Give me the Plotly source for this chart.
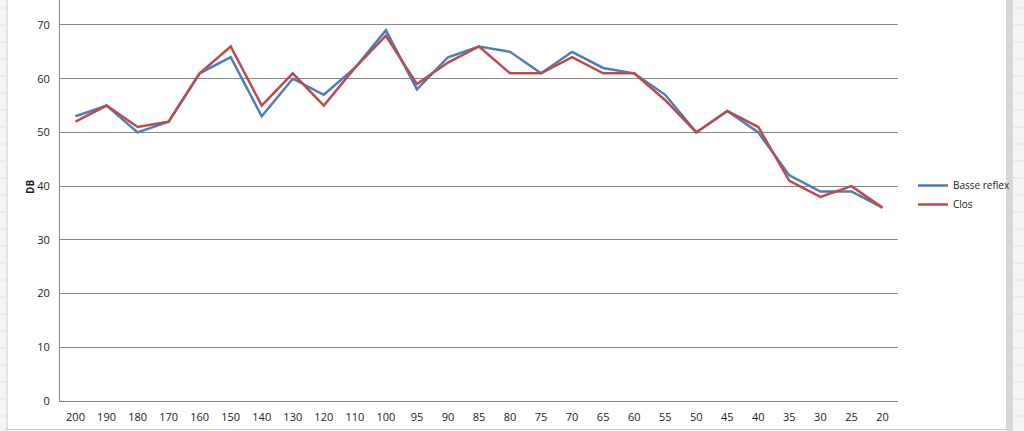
import plotly.graph_objects as go

categories = ["200", "190", "180", "170", "160", "150", "140", "130", "120", "110", "100",
              "95", "90", "85", "80", "75", "70", "65", "60", "55", "50", "45", "40",
              "35", "30", "25", "20"]
basse_reflex = [53, 55, 50, 52, 61, 64, 53, 60, 57, 62, 69, 58, 64, 66, 65, 61, 65, 62, 61,
                57, 50, 54, 50, 42, 39, 39, 36]
clos = [52, 55, 51, 52, 61, 66, 55, 61, 55, 62, 68, 59, 63, 66, 61, 61, 64, 61, 61,
        56, 50, 54, 51, 41, 38, 40, 36]
y_ticks = [0, 10, 20, 30, 40, 50, 60, 70]

W, H = 1024, 431
L, R, T, B = 60, 126, 0, 30
PW, PH = W - L - R, H - T - B


def px(x):
    return (x - L) / PW


def py(y):
    return (H - B - y) / PH


fig = go.Figure()
fig.add_trace(go.Scatter(x=categories, y=basse_reflex, mode="lines", name="Basse reflex",
                         line=dict(color="#4A7EBB", width=2.5)))
fig.add_trace(go.Scatter(x=categories, y=clos, mode="lines", name="Clos",
                         line=dict(color="#BE4B48", width=2.5)))

shapes = []
# spreadsheet background outside chart
shapes.append(dict(type="rect", xref="paper", yref="paper", x0=px(1008), x1=px(1030),
                   y0=py(-5), y1=py(435), fillcolor="#f4f4f4", line=dict(width=0), layer="below"))
shapes.append(dict(type="rect", xref="paper", yref="paper", x0=px(1006), x1=px(1013),
                   y0=py(-5), y1=py(435), fillcolor="#d8d8d8", line=dict(width=0), layer="below"))
shapes.append(dict(type="rect", xref="paper", yref="paper", x0=px(-5), x1=px(7),
                   y0=py(-5), y1=py(435), fillcolor="#f4f4f4", line=dict(width=0), layer="below"))
shapes.append(dict(type="line", xref="paper", yref="paper", x0=px(7), x1=px(7),
                   y0=py(0), y1=py(430), line=dict(color="#c8c8c8", width=1)))
shapes.append(dict(type="line", xref="paper", yref="paper", x0=px(7), x1=px(1007),
                   y0=py(429.5), y1=py(429.5), line=dict(color="#c8c8c8", width=1)))
for gy in range(8, 431, 17):
    shapes.append(dict(type="line", xref="paper", yref="paper", x0=px(0), x1=px(6),
                       y0=py(gy), y1=py(gy), line=dict(color="#e2e2e2", width=1)))
    shapes.append(dict(type="line", xref="paper", yref="paper", x0=px(1013), x1=px(1024),
                       y0=py(gy), y1=py(gy), line=dict(color="#e2e2e2", width=1)))

fig.update_layout(
    width=W, height=H,
    margin=dict(l=L, r=R, t=T, b=B, autoexpand=False),
    paper_bgcolor="white", plot_bgcolor="white",
    font=dict(family="Open Sans", size=11, color="#222222"),
    showlegend=True,
    legend=dict(x=px(913), y=py(195), xanchor="left", yanchor="middle",
                font=dict(size=10, color="#222222"), bgcolor="rgba(0,0,0,0)",
                tracegroupgap=2, itemwidth=30),
    xaxis=dict(type="category", showgrid=False, showline=True, linecolor="#868686",
               linewidth=1, ticks="", tickfont=dict(size=11), fixedrange=True,
               ticklabelstandoff=6,
               range=[-0.5, len(categories) - 0.5]),
    yaxis=dict(range=[0, 74.65], tickvals=y_ticks,
               showgrid=True, gridcolor="#868686", gridwidth=1, zeroline=False,
               showline=True, linecolor="#868686", linewidth=1, ticks="",
               ticklabelstandoff=7, tickfont=dict(size=11)),
    shapes=shapes,
    annotations=[dict(text="<b>DB</b>", xref="paper", yref="paper", x=px(30), y=py(187),
                      xanchor="center", yanchor="middle",
                      showarrow=False, textangle=-90, font=dict(size=10, color="#222222"))],
)

fig.write_html("out.html", post_script="document.body.style.margin='0';",
               config={"displayModeBar": False})
